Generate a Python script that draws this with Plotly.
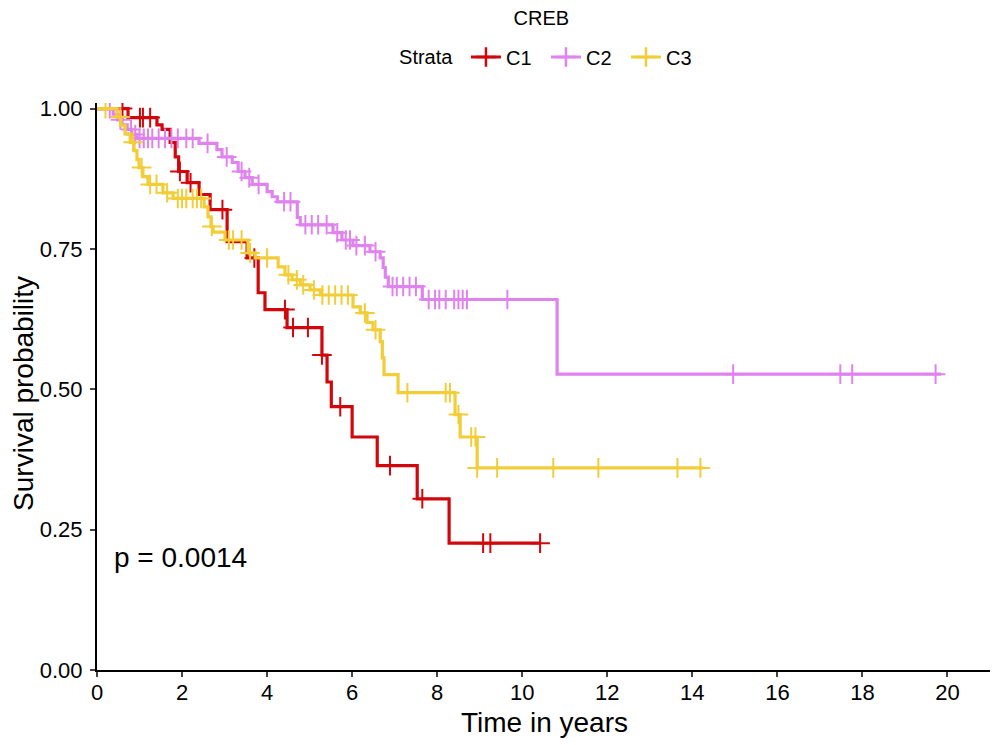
import plotly.graph_objects as go

# ---- data ----
c1_times = [0.73, 1.41, 1.53, 1.72, 1.84, 1.92, 2.12, 2.40, 2.66, 3.06, 3.53, 3.79, 3.95, 4.47, 5.29, 5.41, 5.51, 6.00, 6.59, 7.53, 8.28]
c1_surv = [0.984, 0.971, 0.963, 0.940, 0.914, 0.888, 0.868, 0.847, 0.820, 0.763, 0.734, 0.672, 0.642, 0.610, 0.561, 0.513, 0.469, 0.415, 0.364, 0.305, 0.226]
c1_censor = [0.60, 1.01, 1.08, 1.25, 1.95, 2.20, 2.95, 3.70, 4.42, 4.61, 4.96, 5.29, 5.72, 6.89, 7.65, 9.08, 9.25, 10.42]
c1_end = 10.42

c2_times = [0.38, 0.49, 0.59, 0.71, 0.82, 0.94, 2.40, 2.82, 2.94, 3.18, 3.32, 3.48, 3.65, 4.00, 4.12, 4.24, 4.71, 4.78, 5.55, 5.76, 6.02, 6.42, 6.66, 6.73, 6.78, 6.85, 7.65, 10.82]
c2_surv = [0.990, 0.980, 0.971, 0.963, 0.954, 0.947, 0.938, 0.927, 0.914, 0.904, 0.888, 0.877, 0.865, 0.852, 0.843, 0.834, 0.806, 0.793, 0.779, 0.766, 0.756, 0.745, 0.734, 0.717, 0.700, 0.683, 0.660, 0.527]
c2_censor = [0.30, 0.55, 0.80, 0.90, 1.00, 1.10, 1.20, 1.30, 1.45, 1.60, 1.75, 1.90, 2.10, 2.25, 2.60, 3.05, 3.40, 3.58, 3.80, 4.40, 4.55, 4.90, 5.05, 5.20, 5.40, 5.65, 5.85, 5.95, 6.10, 6.30, 6.55, 6.95, 7.05, 7.20, 7.35, 7.50, 7.80, 7.95, 8.05, 8.20, 8.40, 8.50, 8.60, 8.70, 9.65, 14.96, 17.48, 17.76, 19.72]
c2_end = 19.85

c3_times = [0.47, 0.56, 0.66, 0.78, 0.87, 0.94, 0.99, 1.08, 1.20, 1.55, 1.79, 2.52, 2.61, 2.68, 2.73, 3.01, 3.55, 3.72, 4.26, 4.42, 4.59, 4.78, 5.01, 5.25, 6.02, 6.19, 6.35, 6.49, 6.66, 6.71, 6.75, 7.08, 8.42, 8.54, 8.94]
c3_surv = [0.985, 0.970, 0.955, 0.940, 0.925, 0.909, 0.895, 0.879, 0.865, 0.850, 0.840, 0.825, 0.807, 0.790, 0.780, 0.766, 0.743, 0.734, 0.718, 0.704, 0.695, 0.686, 0.677, 0.668, 0.647, 0.636, 0.619, 0.606, 0.585, 0.556, 0.526, 0.494, 0.455, 0.415, 0.360]
c3_censor = [0.20, 0.55, 0.85, 1.05, 1.25, 1.40, 1.65, 1.90, 2.00, 2.10, 2.25, 2.35, 2.45, 2.70, 3.10, 3.20, 3.40, 3.60, 4.00, 4.50, 4.70, 4.85, 5.10, 5.30, 5.45, 5.60, 5.75, 5.90, 6.30, 6.55, 7.30, 8.20, 8.30, 8.50, 8.80, 8.90, 8.94, 9.41, 10.73, 11.79, 13.65, 14.19]
c3_end = 14.26

strata = ["C1", "C2", "C3"]
colors = ["#D2070B", "#E083EE", "#F2CD37"]
x_ticks = list(range(0, 21, 2))
y_ticks = [0.0, 0.25, 0.5, 0.75, 1.0]
p_label = "p = 0.0014"
x_title = "Time in years"
y_title = "Survival probability"

series = [
    (c1_times, c1_surv, c1_censor, c1_end),
    (c2_times, c2_surv, c2_censor, c2_end),
    (c3_times, c3_surv, c3_censor, c3_end),
]

FONT = "Liberation Sans, Arial, Helvetica, sans-serif"
fig = go.Figure()


def surv_at(times, surv, t):
    s = 1.0
    for ti, si in zip(times, surv):
        if ti <= t:
            s = si
    return s


for name, col, (tt, ss, cc, end) in zip(strata, colors, series):
    xs = [0.0] + tt + [end]
    ys = [1.0] + ss + [ss[-1]]
    fig.add_trace(go.Scatter(x=xs, y=ys, mode="lines", line=dict(color=col, width=3.2, shape="hv"),
                             showlegend=False, hoverinfo="skip"))
    cy = [surv_at(tt, ss, c) for c in cc]
    fig.add_trace(go.Scatter(x=cc, y=cy, mode="markers",
                             marker=dict(symbol="cross-thin", size=14, line=dict(color=col, width=2)),
                             showlegend=False, hoverinfo="skip"))
    fig.add_trace(go.Scatter(x=[None], y=[None], mode="lines+markers", name=name,
                             line=dict(color=col, width=3),
                             marker=dict(symbol="cross-thin", size=14, color=col, line=dict(color=col, width=2.5))))

fig.add_annotation(x=0.35, y=0.2, xref="x", yref="y", text=p_label, showarrow=False,
                   xanchor="left", yanchor="middle", font=dict(size=28, color="black", family=FONT))
fig.add_annotation(x=0.5006, y=-0.093, xref="paper", yref="paper", text=x_title, showarrow=False,
                   xanchor="center", yanchor="middle", font=dict(size=28, color="black", family=FONT))
fig.add_annotation(x=-0.0817, y=0.487, xref="paper", yref="paper", text=y_title, showarrow=False,
                   textangle=-90, xanchor="center", yanchor="middle",
                   font=dict(size=28, color="black", family=FONT))

# page has an 8px body margin, so figure is sized to fit inside the 1003x745 window
fig.update_layout(
    width=995, height=737,
    margin=dict(l=89, r=13, t=95, b=75, autoexpand=False),
    paper_bgcolor="white", plot_bgcolor="white",
    font=dict(family=FONT, color="black"),
    title=dict(text="CREB", x=0.536, xanchor="center", y=0.996, yanchor="top",
               font=dict(size=20, color="black", family=FONT)),
    legend=dict(orientation="h", x=0.509, xanchor="center", y=1.081, yanchor="middle",
                title=dict(text="Strata ", font=dict(size=20)), font=dict(size=20),
                itemwidth=30, tracegroupgap=0, entrywidth=35, entrywidthmode="pixels"),
    xaxis=dict(range=[0, 21.0], tickvals=x_ticks, ticks="outside", ticklen=5, tickwidth=1.5,
               showline=True, linecolor="black", linewidth=2, showgrid=False, zeroline=False,
               automargin=False, tickfont=dict(size=22), ticklabelstandoff=-3),
    yaxis=dict(range=[0, 1.01], tickvals=y_ticks, tickformat=".2f", ticks="outside", ticklen=5, tickwidth=1.5,
               showline=True, linecolor="black", linewidth=2, showgrid=False, zeroline=False,
               automargin=False, tickfont=dict(size=22), ticklabelstandoff=3),
)

fig.write_html("out.html")
